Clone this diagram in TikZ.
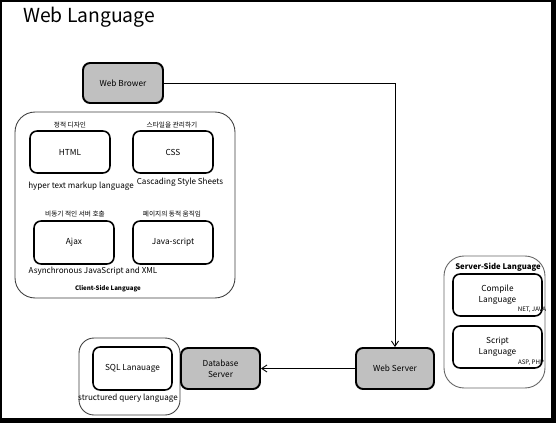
\documentclass[tikz,border=0pt]{standalone}
\usepackage{fontspec}
\setmainfont{Noto Sans CJK KR}
\usetikzlibrary{arrows.meta}
\definecolor{boxgray}{HTML}{C0C0C0}
\tikzset{
  graybox/.style={draw,line width=1.1pt,rounded corners=4pt,fill=boxgray,align=center,font=\fontsize{4.7}{6}\selectfont},
  langbox/.style={draw,line width=0.9pt,rounded corners=4pt,fill=white,minimum width=1.6cm,minimum height=0.84cm,align=center,font=\fontsize{4.7}{6.2}\selectfont},
  groupbox/.style={draw=black!75,line width=0.5pt,rounded corners=0.4cm},
  kor/.style={font=\fontsize{3.8}{4.5}\selectfont},
  note/.style={font=\fontsize{4.6}{5.5}\selectfont},
  tag/.style={font=\bfseries\fontsize{3.5}{4.2}\selectfont}
}
\begin{document}
\begin{tikzpicture}[x=0.02cm,y=-0.02cm,>={Straight Barb[length=3pt,width=4pt]}]
  \fill[black] (0,0) rectangle (556,423);
  \fill[white] (2,2) rectangle (551,418);
  \node[anchor=west,font=\fontsize{11}{13}\selectfont] (title) at (17,17) {Web Language};
  % client side
  \node[groupbox,minimum width=4.4cm,minimum height=3.72cm] (client) at (125,205) {};
  \node[langbox] (html) at (70,152) {HTML};
  \node[langbox] (css) at (173,152) {CSS};
  \node[langbox,minimum height=0.86cm] (ajax) at (74,242.5) {Ajax};
  \node[langbox,minimum height=0.86cm] (js) at (173,242.5) {Java-script};
  \node[kor] at (70,125) {정적 디자인};
  \node[kor] at (172,125) {스타일을 관리하기};
  \node[kor] at (75,214) {비동기 적인 서버 호출};
  \node[kor] at (172,214) {페이지의 동적 움직임};
  \node[note] at (81,186) {hyper text markup language};
  \node[note] at (180,182) {Cascading Style Sheets};
  \node[note] at (93,271) {Asynchronous JavaScript and XML};
  \node[tag] at (108,289) {Client-Side Language};
  % server side
  \node[groupbox,draw=black!60,minimum width=2.02cm,minimum height=2.64cm] (server) at (494.5,322) {};
  \node[tag,font=\bfseries\fontsize{4.4}{5.2}\selectfont] at (498,267) {Server-Side Language};
  \node[langbox,minimum width=1.78cm] (compile) at (497.5,295) {Compile\\Language};
  \node[langbox,minimum width=1.78cm] (script) at (497.5,347) {Script\\Language};
  \node[tag,font=\fontsize{3.5}{4}\selectfont] at (532,310) {NET, JAVA};
  \node[tag,font=\fontsize{3.5}{4}\selectfont] at (531,363) {ASP, PHP};
  % database side
  \node[groupbox,minimum width=2.02cm,minimum height=1.54cm,rounded corners=0.3cm] (sqlgroup) at (129.5,376.5) {};
  \node[langbox,minimum width=1.58cm,minimum height=0.86cm] (sql) at (132.5,368.5) {SQL Lanauage};
  \node[note] at (128,398) {structured query language};
  % servers
  \node[graybox,minimum width=1.6cm,minimum height=0.8cm] (browser) at (123,83) {Web Brower};
  \node[graybox,minimum width=1.56cm,minimum height=0.82cm] (web) at (395,368.5) {Web Server};
  \node[graybox,minimum width=1.58cm,minimum height=0.82cm] (db) at (220.5,368.5) {Database\\Server};
  \draw[->,line width=0.5pt] (browser.east) -| (web.north);
  \draw[->,line width=0.5pt] (web.west) -- (db.east);
\end{tikzpicture}
\end{document}
